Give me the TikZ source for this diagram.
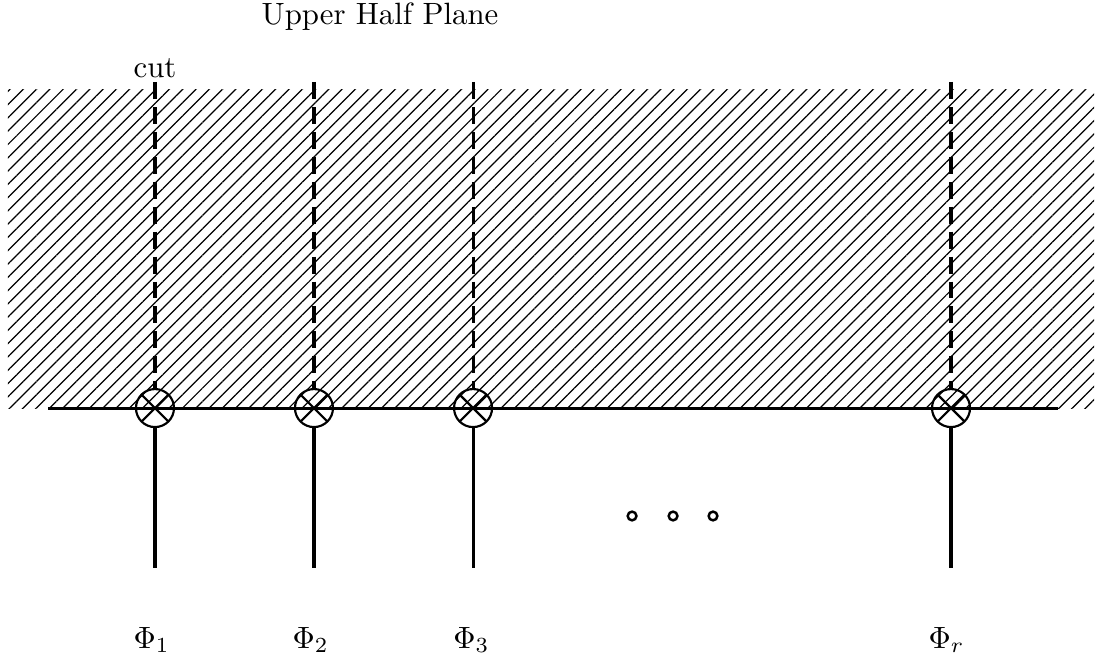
\documentclass[tikz,border=0pt]{standalone}
\usepackage{amsmath}
\usepackage{amssymb}
\usepackage{tikz}
\usetikzlibrary{shapes,arrows,positioning,patterns,patterns.meta}

\begin{document}
\begin{tikzpicture}[insertion/.style={draw,circle,line width=0.7pt,inner sep=0pt,minimum size=0.434cm,
    path picture={\draw[line width=0.7pt] (path picture bounding box.south west) -- (path picture bounding box.north east)
      (path picture bounding box.north west) -- (path picture bounding box.south east);}},
  smalldot/.style={draw,circle,line width=0.8pt,inner sep=0pt,minimum size=0.1cm},
  cutline/.style={line width=1pt,dash pattern=on 5.5pt off 2.6pt},
  leg/.style={line width=1pt}]
\useasboundingbox (0,0) rectangle (12.511,7.5);
\fill[pattern={Lines[angle=45,distance=3.05pt,line width=0.4pt]}] (0.091,2.842) rectangle (12.489,6.473);

\node (title) at (4.338,7.215) [anchor=base] {Upper Half Plane};

\coordinate (left) at (0.548,2.842);
\coordinate (right) at (12.078,2.842);
\draw[line width=1pt] (left) -- (right);

\node[insertion] (x1) at (1.769,2.842) {};
\node[insertion] (x2) at (3.584,2.842) {};
\node[insertion] (x3) at (5.400,2.842) {};
\node[insertion] (xr) at (10.856,2.842) {};

\coordinate (t1) at (1.769,6.564);
\coordinate (t2) at (3.584,6.564);
\coordinate (t3) at (5.400,6.564);
\coordinate (tr) at (10.856,6.564);
\coordinate (b1) at (1.769,1.016);
\coordinate (b2) at (3.584,1.016);
\coordinate (b3) at (5.400,1.016);
\coordinate (br) at (10.856,1.016);

\node (cut) at (1.769,6.621) [anchor=base] {cut};

\draw[cutline] (t1) -- (x1.north);
\draw[cutline] (t2) -- (x2.north);
\draw[cutline] (t3) -- (x3.north);
\draw[cutline] (tr) -- (xr.north);

\draw[leg] (x1.south) -- (b1);
\draw[leg] (x2.south) -- (b2);
\draw[leg] (x3.south) -- (b3);
\draw[leg] (xr.south) -- (br);

\node[smalldot] (d1) at (7.215,1.610) {};
\node[smalldot] (d2) at (7.683,1.610) {};
\node[smalldot] (d3) at (8.139,1.610) {};

\node (phi1) at (1.518,0.103) [anchor=base west,inner sep=0pt] {$\Phi_1$};
\node (phi2) at (3.333,0.103) [anchor=base west,inner sep=0pt] {$\Phi_2$};
\node (phi3) at (5.168,0.103) [anchor=base west,inner sep=0pt] {$\Phi_3$};
\node (phir) at (10.594,0.103) [anchor=base west,inner sep=0pt] {$\Phi_r$};

\end{tikzpicture}
\end{document}
